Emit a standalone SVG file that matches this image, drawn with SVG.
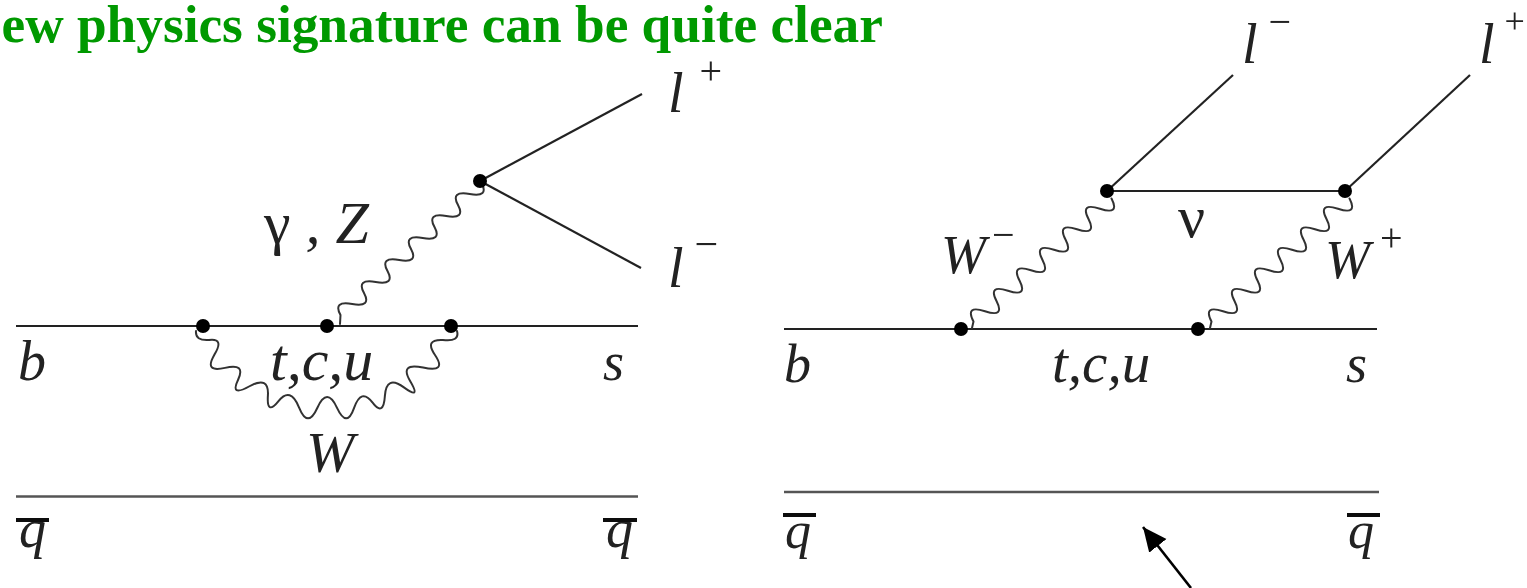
<svg xmlns="http://www.w3.org/2000/svg" width="1527" height="588" viewBox="0 0 1527 588">
<style>
.ln{stroke:#222;stroke-width:2.2;fill:none}
.q{stroke:#555;stroke-width:2.6;fill:none}
.w{stroke:#333;stroke-width:2;fill:none;stroke-linejoin:round;stroke-linecap:round}
.bar{stroke:#111;stroke-width:4}
.t{font-family:"Liberation Serif","Times New Roman",serif;font-style:italic;fill:#222}
.u{font-style:normal}
.dot{fill:#000}
.title{font-family:"Liberation Serif","Times New Roman",serif;font-weight:bold;font-size:53.3px;fill:#009900}
</style>
<defs>
<filter id="soft" x="-2%" y="-2%" width="104%" height="104%"><feGaussianBlur stdDeviation="0.55"/></filter>
<marker id="head" markerUnits="userSpaceOnUse" markerWidth="26" markerHeight="26" refX="24" refY="11" orient="auto"><path d="M0,0L24,11L0,22z" fill="#000"/></marker>
</defs>
<rect width="1527" height="588" fill="#fff"/>
<text id="title" class="title" x="1.5" y="42">ew physics signature can be quite clear</text>
<g filter="url(#soft)">
<g id="connectors">
<path class="ln" d="M16,326H638"/>
<path class="q" d="M16,496.500H638"/>
<path class="ln" d="M480,181L642,94"/>
<path class="ln" d="M480,181L641,268"/>
<path class="w" d="M340,324L340.500,315q-7.900,-14.500 11.750,-11q19.600,3.500 11.750,-11q-7.900,-14.500 11.750,-11q19.600,3.500 11.750,-11q-7.900,-14.500 11.750,-11q19.600,3.500 11.750,-11q-7.900,-14.500 11.750,-11q19.600,3.500 11.750,-11q-7.900,-14.500 11.750,-11q19.600,3.500 11.750,-11q-7.900,-14.500 11.750,-11q19.600,3.500 11.750,-11"/>
<path class="w" d="M196,331Q195,341 209,340Q224.750,338 214.250,354.900Q203.750,373 225,367.900Q246.250,362.750 238,380Q229.750,397.250 249.500,386.250Q269.250,375.250 267.900,395.600Q266.500,416 278.500,401.100Q290.500,386.250 299.100,407.600Q307.750,429 317.400,407.750Q327,386.500 336.900,407.600Q346.750,428.750 354,408.100Q361.250,387.500 372.400,402.400Q383.500,417.250 384.900,395.900Q386.250,374.500 403.900,387.400Q421.500,400.250 410.250,381.250Q399,362.250 423.100,367.600Q447.250,373 435,355Q424,339 443,340Q460,342 457,331"/>
<path class="ln" d="M784,329H1377"/>
<path class="q" d="M784,492H1379"/>
<path class="ln" d="M1107,191L1233,75"/>
<path class="ln" d="M1345,191L1470,75"/>
<path class="ln" d="M1107,191H1345"/>
<path class="w" d="M972,328L973.500,321.500q-8.750,-16.900 11.500,-10.250q20.250,6.650 11.500,-10.250q-8.750,-16.900 11.500,-10.250q20.250,6.650 11.500,-10.250q-8.750,-16.900 11.500,-10.250q20.250,6.650 11.500,-10.250q-8.750,-16.900 11.500,-10.250q20.250,6.650 11.500,-10.250q-8.750,-16.900 11.500,-10.250q20.250,6.650 11.500,-10.250q-8.750,-16.900 11.500,-10.250q20.250,6.650 11.500,-10.250"/>
<path class="w" d="M1210,328L1211.500,321.500q-8.750,-16.900 11.500,-10.250q20.250,6.650 11.500,-10.250q-8.750,-16.900 11.500,-10.250q20.250,6.650 11.500,-10.250q-8.750,-16.900 11.500,-10.250q20.250,6.650 11.500,-10.250q-8.750,-16.900 11.500,-10.250q20.250,6.650 11.500,-10.250q-8.750,-16.900 11.500,-10.250q20.250,6.650 11.500,-10.250q-8.750,-16.900 11.500,-10.250q20.250,6.650 11.500,-10.250"/>
</g>
<g id="v1"><circle class="dot" cx="203" cy="326" r="7"/></g>
<g id="v2"><circle class="dot" cx="327" cy="326" r="7"/></g>
<g id="v3"><circle class="dot" cx="451" cy="326" r="7"/></g>
<g id="v4"><circle class="dot" cx="480" cy="181" r="7"/></g>
<g id="v5"><circle class="dot" cx="961" cy="329" r="7"/></g>
<g id="v6"><circle class="dot" cx="1198" cy="329" r="7"/></g>
<g id="v7"><circle class="dot" cx="1107" cy="191" r="7"/></g>
<g id="v8"><circle class="dot" cx="1345" cy="191" r="7"/></g>
<g id="labels-left">
<text class="t" x="668" y="112" font-size="56">l<tspan dx="16" dy="-28" font-size="40" class="u">+</tspan></text>
<text class="t" x="668" y="287" font-size="56">l<tspan dx="11" dy="-29" font-size="42" class="u">−</tspan></text>
<text class="t" x="264" y="243" font-size="60"><tspan class="u">γ</tspan> , Z</text>
<text class="t" x="18" y="380" font-size="56">b</text>
<text class="t" x="603" y="380" font-size="54">s</text>
<text class="t" x="270" y="380" font-size="60">t,c,u</text>
<text class="t" x="306" y="472" font-size="58">W</text>
<text class="t" x="19" y="547" font-size="54">q</text>
<text class="t" x="606" y="547" font-size="54">q</text>
<path class="bar" d="M16,520H49M603,520H637"/>
</g>
<g id="labels-right">
<text class="t" x="1242" y="63" font-size="56">l<tspan dx="11" dy="-28" font-size="40" class="u">−</tspan></text>
<text class="t" x="1479" y="63" font-size="56">l<tspan dx="10" dy="-30" font-size="36" class="u">+</tspan></text>
<text class="t" x="941" y="273" font-size="54">W<tspan dx="6" dy="-25" font-size="40" class="u">−</tspan></text>
<text class="t" x="1325" y="278" font-size="54">W<tspan dx="10" dy="-27" font-size="40" class="u">+</tspan></text>
<text class="t u" x="1178" y="237" font-size="60">ν</text>
<text class="t" x="784" y="382" font-size="54">b</text>
<text class="t" x="1052" y="382" font-size="57">t,c,u</text>
<text class="t" x="1346" y="382" font-size="54">s</text>
<text class="t" x="785" y="548" font-size="52">q</text>
<text class="t" x="1348" y="548" font-size="52">q</text>
<path class="bar" d="M783,515H816M1347,515H1380"/>
</g>
</g>
<g id="arrow"><path d="M1191,588L1143,527" stroke="#000" stroke-width="2.6" fill="none" marker-end="url(#head)"/></g>
</svg>
